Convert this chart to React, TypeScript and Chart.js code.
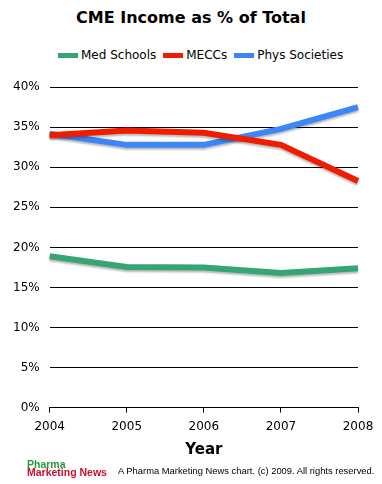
import React, { useEffect, useRef } from "react";
import { Chart, registerables } from "chart.js";

Chart.register(...registerables);

const years = ["2004", "2005", "2006", "2007", "2008"];
const medSchools = [18.9, 17.55, 17.5, 16.8, 17.4];
const meccs = [34.0, 34.6, 34.3, 32.8, 28.3];
const physSocieties = [34.2, 32.8, 32.8, 34.8, 37.5];
const seriesNames = ["Med Schools", "MECCs", "Phys Societies"];
const seriesColors = ["#36a574", "#f01c00", "#3c86f8"];
const yTicks = [0, 5, 10, 15, 20, 25, 30, 35, 40];

const FONT = "'DejaVu Sans', Verdana, sans-serif";

const shadowPlugin = {
  id: "lineShadow",
  beforeDatasetDraw(chart: any) {
    const ctx = chart.ctx;
    ctx.save();
    ctx.shadowColor = "rgba(0,0,0,0.28)";
    ctx.shadowOffsetX = 0;
    ctx.shadowOffsetY = 2;
    ctx.shadowBlur = 2;
  },
  afterDatasetDraw(chart: any) {
    chart.ctx.restore();
  },
};

export default function App() {
  const ref = useRef<HTMLCanvasElement | null>(null);
  useEffect(() => {
    document.body.style.margin = "0";
    const data = [medSchools, meccs, physSocieties];
    const chart = new Chart(ref.current as HTMLCanvasElement, {
      type: "line",
      data: {
        labels: years,
        datasets: seriesNames.map((n, i) => ({
          label: n,
          data: data[i],
          borderColor: seriesColors[i],
          backgroundColor: seriesColors[i],
          borderWidth: 6,
          pointRadius: 0,
          tension: 0,
          fill: false,
        })),
      },
      options: {
        responsive: false,
        animation: false,
        layout: { padding: { left: 3, right: 24, top: 10, bottom: 1 } },
        plugins: {
          tooltip: { enabled: false },
          title: { display: false },
          legend: { display: false },
        },
        scales: {
          x: {
            offset: false,
            grid: {
              drawOnChartArea: false,
              drawTicks: true,
              tickLength: 5,
              color: "#000",
            },
            border: { display: true, color: "#000" },
            ticks: { color: "#000", font: { family: FONT, size: 12 }, maxRotation: 0, padding: 7 },
            title: {
              display: true,
              text: "Year",
              color: "#000",
              font: { family: FONT, size: 15, weight: "bold" },
              padding: { top: 0, bottom: 0 },
            },
          },
          y: {
            min: yTicks[0],
            max: yTicks[yTicks.length - 1],
            afterBuildTicks: (axis: any) => {
              axis.ticks = yTicks.map((v) => ({ value: v }));
            },
            grid: { color: "#000", drawTicks: false, lineWidth: 1 },
            border: { display: false },
            ticks: {
              color: "#000",
              padding: 10,
              font: { family: FONT, size: 12 },
              callback: (v: any) => v + "%",
            },
          },
        },
      },
      plugins: [shadowPlugin],
    });
    return () => chart.destroy();
  }, []);
  return (
    <div style={{ position: "relative", width: 382, height: 484, background: "#fff", overflow: "hidden" }}>
      <div
        style={{
          position: "absolute",
          left: 0,
          width: 382,
          top: 8,
          textAlign: "center",
          fontFamily: FONT,
          fontWeight: "bold",
          fontSize: 16,
          lineHeight: "19px",
          color: "#000",
        }}
      >
        CME Income as % of Total
      </div>
      <div
        style={{
          position: "absolute",
          left: 58,
          top: 47,
          display: "flex",
          alignItems: "center",
          fontFamily: FONT,
          fontSize: 12,
          lineHeight: "16px",
          color: "#000",
          whiteSpace: "nowrap",
        }}
      >
        {seriesNames.map((n, i) => (
          <div key={n} style={{ display: "flex", alignItems: "center", marginRight: 7 }}>
            <span
              style={{
                display: "inline-block",
                width: 20,
                height: 5,
                background: seriesColors[i],
                marginRight: 3,
              }}
            />
            <span>{n}</span>
          </div>
        ))}
      </div>
      <canvas
        ref={ref}
        width={382}
        height={390}
        style={{ display: "block", position: "absolute", left: 0, top: 70 }}
      />
      <div
        style={{
          position: "absolute",
          left: 27,
          top: 460,
          fontFamily: "'Liberation Sans', Arial, sans-serif",
          fontWeight: "bold",
          fontSize: 10.5,
          lineHeight: "8px",
        }}
      >
        <div style={{ color: "#2a9a3a" }}>Pharma</div>
        <div style={{ color: "#c8102e" }}>Marketing News</div>
      </div>
      <div
        style={{
          position: "absolute",
          left: 118,
          top: 465,
          fontFamily: "'Liberation Sans', Arial, sans-serif",
          fontSize: 9.4,
          color: "#000",
          whiteSpace: "nowrap",
        }}
      >
        A Pharma Marketing News chart. (c) 2009. All rights reserved.
      </div>
    </div>
  );
}
